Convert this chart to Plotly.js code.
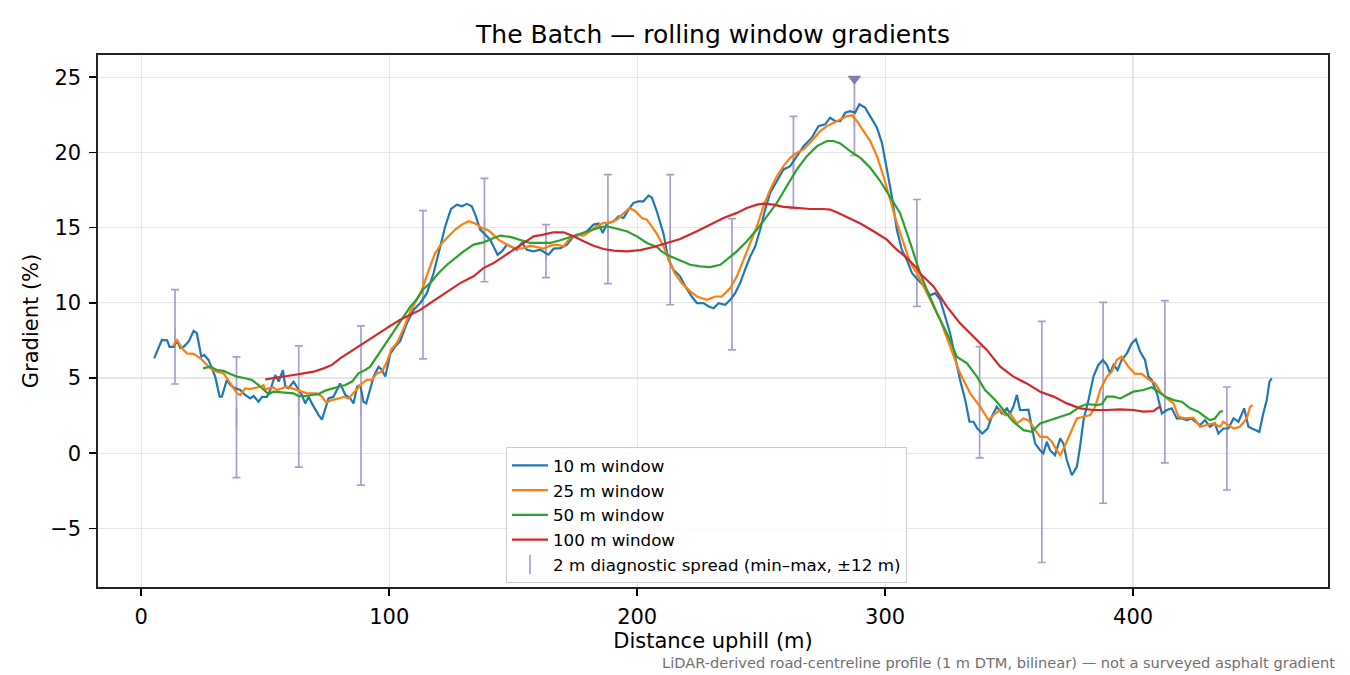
<!DOCTYPE html>
<html>
<head>
<meta charset="utf-8">
<script src="https://cdn.plot.ly/plotly-3.0.1.min.js"></script>
<style>
  html, body { margin: 0; padding: 0; background: #fff; }
  #chart { width: 1350px; height: 675px; }
</style>
</head>
<body>
<div id="chart"></div>
<script>
// rolling-window gradients (distance m, gradient %)
var x10 = [5.2, 8.3, 10.4, 11.4, 13, 14.4, 15.7, 17.1, 19.1, 21.1, 22.4, 23.4, 24.2, 25.4, 27.1, 28.5, 29.8, 31.6, 32.5, 34.5,
  35.9, 37.9, 39.9, 41.9, 43.9, 45.3, 47.3, 48.7, 50.7, 52, 54, 55.4, 57.1, 58.1, 59.4, 61.4, 62.8, 64.8, 66.1, 67.5,
  68.8, 70.2, 71.5, 72.9, 74.2, 75.5, 77.5, 78.9, 80.2, 82.3, 84.3, 85.6, 87, 88.3, 89.6, 90.7, 92.1, 93.7, 95.7, 97.1,
  98.4, 100.4, 102.4, 104.4, 107.1, 109.8, 112.5, 115.2, 117.9, 120.6, 122.6, 124.9, 127.3, 129.3, 131.3, 133.3, 134.7, 136.7, 138.7, 140.7,
  143.7, 145.4, 147.5, 149.5, 151.5, 153.5, 155.5, 158.2, 160.9, 164.2, 166.3, 169, 171.7, 174.3, 177, 179.7, 182.4, 184.4, 186.1, 187.8,
  190.5, 192.5, 194.5, 196.5, 198.5, 200.5, 202.5, 204.6, 205.9, 207.9, 210.6, 212.6, 214.6, 217.3, 219.4, 222, 224.1, 226.7, 228.8, 230.8,
  232.8, 235.5, 237.5, 239.5, 241.5, 243.5, 245.6, 247.6, 249.6, 251.6, 253.6, 256.3, 259, 261.7, 264.4, 267.1, 270.4, 273.1, 275.8, 277.8,
  279.8, 281.9, 283.9, 285.9, 287.9, 289.6, 291.9, 294, 296.7, 298.7, 300.7, 302.7, 304.7, 306.7, 308.7, 310.8, 312.8, 315.4, 318.1, 320.2,
  322.2, 324.2, 326.2, 328.2, 330.2, 332.3, 334, 335.6, 337.2, 339.2, 341.3, 343, 345, 347.1, 349.1, 350.4, 351.7, 353.1, 354.4, 355.8,
  357.8, 359.1, 360.5, 362.5, 363.8, 365.2, 366.5, 368.5, 370.6, 371.9, 373.3, 375.3, 377.3, 378.6, 380, 382, 384, 386, 387.8, 389.4,
  390.7, 392.1, 393.7, 395.4, 397.5, 399.5, 401.1, 402.8, 404.8, 406.2, 407.5, 409.6, 411.6, 413.6, 415.6, 417.6, 419.6, 421.6, 423.7, 425,
  427, 429, 431, 433, 434.4, 436.4, 438.4, 440.5, 442.5, 444.8, 446.5, 447.9, 449.2, 450.9, 452.5, 453.9, 455, 455.9];
var y10 = [6.3, 7.53, 7.5, 7.07, 7.07, 7.49, 7.0, 7.07, 7.42, 8.13, 7.98, 7.2, 6.42, 6.53, 6.2, 5.64, 5.09, 3.76, 3.76, 4.87,
  4.53, 4.31, 4.2, 3.87, 3.64, 3.8, 3.42, 3.75, 3.75, 4.2, 5.2, 4.76, 5.53, 4.42, 4.31, 4.76, 4.42, 3.87, 3.31, 3.75,
  3.31, 2.87, 2.53, 2.24, 2.98, 3.64, 3.75, 4.2, 4.64, 3.87, 3.64, 3.31, 4.42, 4.53, 3.42, 3.31, 4.2, 5.09, 5.75, 5.53,
  5.09, 6.6, 7.1, 7.45, 8.64, 9.53, 9.98, 10.64, 11.98, 13.76, 15.09, 16.24, 16.53, 16.42, 16.58, 16.42, 15.87, 14.87, 14.53, 14.2,
  13.2, 13.42, 13.87, 13.71, 13.53, 13.98, 13.53, 13.42, 13.53, 13.2, 13.6, 13.64, 13.87, 14.42, 14.53, 14.76, 15.2, 15.27, 14.64, 15.27,
  15.42, 15.75, 15.64, 16.2, 16.64, 16.75, 16.75, 17.13, 17.0, 16.09, 14.6, 12.87, 12.2, 11.76, 11.09, 10.42, 9.98, 9.98, 9.76, 9.64,
  9.98, 9.87, 10.2, 10.64, 11.31, 12.2, 13.09, 13.76, 14.87, 16.2, 17.31, 18.09, 18.87, 19.09, 19.75, 20.42, 20.98, 21.75, 21.87, 22.31,
  22.1, 22.09, 22.64, 22.75, 22.64, 23.2, 22.98, 22.42, 21.64, 20.64, 18.87, 17.09, 14.87, 13.53, 12.87, 11.98, 11.6, 11.15, 10.5, 10.64,
  10.2, 9.09, 7.98, 6.42, 4.87, 3.53, 2.09, 2.09, 1.64, 1.31, 1.64, 2.42, 3.09, 2.64, 2.98, 2.64, 3.09, 3.87, 2.87, 2.87,
  2.9, 1.76, 0.64, 0.2, -0.02, 0.76, 0.2, -0.13, 0.98, 0.64, -0.47, -1.47, -0.91, 0.42, 2.2, 3.53, 5.09, 5.87, 6.2, 5.87,
  5.31, 5.87, 5.53, 6.2, 6.64, 7.31, 7.58, 6.76, 6.2, 5.09, 4.87, 3.98, 2.64, 2.87, 2.98, 2.31, 2.31, 2.2, 2.31, 2.09,
  1.87, 2.2, 1.76, 1.98, 1.31, 1.64, 1.64, 2.31, 2.09, 2.98, 1.76, 1.64, 1.53, 1.42, 2.64, 3.53, 4.76, 4.98];

var x25 = [12.8, 14.4, 16.4, 18.4, 21.1, 23.8, 25.8, 27.8, 30.5, 33.2, 35.9, 38.6, 39.9, 41.9, 43.9, 48, 49.3, 50, 51.3, 53.3,
  54.7, 56.7, 58.7, 60.8, 64.8, 66.8, 70.8, 72.9, 74.6, 76.9, 79.6, 81.6, 83.6, 87, 89, 91, 93, 95, 97.1, 99.1,
  100.8, 103.1, 105.8, 108.5, 111.2, 113.2, 115.8, 118.5, 121.3, 123.9, 126.6, 129.3, 132, 134.7, 137.4, 140, 142.1, 144.1, 146.8, 148.8,
  151.5, 154.2, 156.9, 159.5, 162.2, 164.9, 167.6, 170.3, 173, 175.7, 178.4, 181, 183.7, 186.4, 189.1, 191.8, 194.5, 196.9, 199.2, 201.9,
  203.9, 205.9, 207.9, 210.2, 212.8, 215, 218, 221.4, 224.1, 228.1, 231.5, 234.1, 237.5, 240.2, 242.9, 245.6, 248.3, 250.9, 253.6, 256.3,
  259, 261.7, 264.4, 267.1, 270.4, 273.8, 276.5, 279.2, 281.9, 284.6, 286.6, 288.6, 291.3, 294, 296.7, 299.3, 302, 304.7, 307.4, 310.1,
  312.8, 315.4, 318.1, 322.2, 326.2, 330.2, 334.3, 338.3, 341.7, 344.4, 346.4, 348.4, 350.4, 353.1, 355.8, 357.8, 360.5, 362.5, 365.2, 367.2,
  369.2, 370.6, 372.6, 374.6, 377.3, 380, 382.7, 384.7, 386.7, 389.4, 391.4, 393.4, 395.4, 398.1, 400.8, 403.5, 406.2, 408.9, 410.9, 413.6,
  416.3, 418.3, 421, 424.3, 427, 429.7, 432.4, 435.1, 436.4, 438.4, 440.5, 443.1, 445.8, 447.2, 448.2];
var y25 = [7.13, 7.53, 6.98, 6.64, 6.6, 6.31, 5.98, 5.64, 5.42, 5.31, 4.64, 3.98, 3.87, 4.31, 4.27, 4.42, 4.53, 4.2, 4.31, 4.38,
  4.2, 4.31, 4.42, 4.31, 4.09, 3.98, 3.98, 3.76, 3.36, 3.53, 3.64, 3.75, 3.64, 4.31, 4.64, 4.87, 4.87, 5.31, 5.42, 6.09,
  6.9, 7.33, 8.3, 9.42, 10.2, 10.87, 12.1, 13.31, 13.98, 14.42, 14.87, 15.2, 15.42, 15.27, 14.98, 14.82, 14.53, 14.2, 13.93, 13.76,
  13.6, 13.64, 13.8, 13.71, 13.6, 13.8, 13.87, 13.76, 14.31, 14.53, 14.47, 14.76, 15.09, 15.31, 15.31, 15.53, 15.98, 16.31, 16.09, 15.64,
  15.53, 15.09, 14.6, 13.9, 12.9, 12.0, 11.3, 10.76, 10.42, 10.2, 10.42, 10.42, 10.98, 11.76, 12.87, 13.98, 15.09, 16.42, 17.53, 18.42,
  19.09, 19.64, 19.98, 20.2, 20.76, 21.42, 21.75, 21.98, 22.2, 22.42, 22.47, 22.09, 21.42, 20.76, 19.75, 18.42, 16.87, 15.31, 13.98, 12.64,
  11.98, 11.09, 10.2, 8.87, 7.09, 5.31, 3.98, 3.09, 2.2, 2.64, 2.87, 2.53, 2.64, 1.98, 2.31, 2.2, 1.53, 1.09, 1.09, 0.76,
  0.2, -0.13, 0.53, 1.31, 2.31, 2.42, 2.53, 3.09, 4.2, 5.09, 5.42, 6.2, 6.42, 5.75, 5.27, 5.27, 4.91, 4.64, 4.09, 3.64,
  3.31, 2.42, 2.31, 2.36, 1.76, 1.87, 1.98, 1.76, 2.09, 1.87, 1.64, 1.76, 2.31, 3.09, 3.2];

var x50 = [24.9, 27.8, 30.5, 33.2, 35.9, 38.6, 41.9, 44.6, 47.3, 49.3, 51.3, 53.3, 56, 58.7, 61.4, 63.4, 66.1, 68.8, 71.5, 74.2,
  76.9, 79.6, 82.3, 85, 87.6, 90.3, 92.3, 95, 97.7, 100.4, 103.1, 105.8, 108.5, 111.2, 113.8, 116.5, 119.9, 123.3, 126.6, 130,
  134, 138, 142.1, 144.8, 148.8, 152.8, 156.9, 160.9, 164.9, 169, 173, 177, 181, 185.1, 187.8, 191.8, 195.8, 199.9, 203.9, 207.9,
  210, 213.3, 217.3, 221.4, 225.4, 229.4, 233.5, 236.2, 240.2, 244.2, 248.3, 252.3, 256.3, 260.3, 264.4, 268.4, 272.5, 276.5, 279.2, 281.9,
  285.9, 290, 294, 298, 302.5, 306, 310.1, 314.1, 316.8, 320.9, 324.9, 328.9, 333, 337, 340.3, 344.4, 347.7, 351.7, 355.8, 359.1,
  362.5, 366.5, 370.6, 374.6, 378.6, 381.3, 385.4, 387.4, 389.4, 392.1, 394.8, 397.5, 400.1, 404.2, 407.5, 410.2, 412.9, 416.3, 419.6, 423,
  426.3, 429, 431, 433, 435.1, 436.2];
var y50 = [5.64, 5.75, 5.53, 5.47, 5.27, 5.09, 4.98, 4.87, 4.53, 4.2, 3.93, 4.09, 4.04, 4.04, 3.98, 3.8, 3.8, 3.87, 3.93, 4.16,
  4.31, 4.42, 4.53, 4.76, 5.31, 5.53, 5.75, 6.42, 7.09, 7.7, 8.42, 9.09, 9.75, 10.25, 10.92, 11.31, 11.98, 12.53, 12.98, 13.42,
  13.87, 14.02, 14.31, 14.47, 14.38, 14.2, 13.98, 13.98, 13.98, 14.16, 14.38, 14.6, 14.82, 15.02, 15.09, 14.91, 14.76, 14.42, 13.98, 13.71,
  13.4, 13.09, 12.8, 12.53, 12.42, 12.38, 12.53, 12.87, 13.42, 14.09, 14.87, 15.75, 16.64, 17.75, 18.87, 19.75, 20.42, 20.76, 20.76, 20.6,
  20.09, 19.64, 18.98, 18.1, 16.9, 15.98, 13.98, 11.98, 10.87, 9.31, 7.98, 6.42, 5.98, 5.09, 4.2, 3.53, 2.87, 2.09, 1.53, 1.42,
  1.98, 2.2, 2.42, 2.64, 3.09, 3.27, 3.2, 3.27, 3.76, 3.76, 3.64, 3.87, 4.09, 4.2, 4.38, 4.09, 3.76, 3.53, 3.42, 2.98,
  2.76, 2.42, 2.2, 2.31, 2.76, 2.8];

var x100 = [50, 53.3, 57.4, 61.4, 65.4, 69.5, 73.5, 76.9, 80.2, 84.3, 88.3, 92.3, 96.4, 100.4, 104.4, 108.5, 112.5, 116.5, 123.3, 128.6,
  134, 138, 142.1, 146.1, 150.1, 154.2, 158.2, 162.2, 166.3, 170.3, 174.3, 178.4, 182.4, 186.4, 190.5, 195.8, 201.2, 206.6, 212, 217.3,
  224.1, 229.4, 234.8, 240.2, 244.2, 248.3, 250.9, 255, 259, 264.4, 269.8, 275.1, 277.8, 280.5, 284.6, 290, 295.3, 300.7, 304.7, 308.7,
  312.8, 314.1, 319.5, 324.9, 330.2, 335.6, 341, 346.4, 351.7, 357.1, 362.5, 367.9, 373.3, 378.6, 384, 389.4, 394.8, 400.1, 404.2, 408.2,
  410.2, 411.2];
var y100 = [4.91, 4.98, 5.09, 5.2, 5.31, 5.42, 5.64, 5.87, 6.31, 6.76, 7.2, 7.58, 8.04, 8.47, 8.87, 9.2, 9.53, 9.98, 10.76, 11.31,
  11.76, 12.31, 12.64, 13.09, 13.53, 13.98, 14.42, 14.53, 14.69, 14.69, 14.42, 14.09, 13.8, 13.58, 13.47, 13.42, 13.5, 13.71, 13.98, 14.24,
  14.76, 15.2, 15.64, 15.98, 16.31, 16.53, 16.6, 16.53, 16.38, 16.31, 16.24, 16.24, 16.2, 16.02, 15.71, 15.27, 14.76, 14.2, 13.53, 13.0,
  12.31, 11.95, 11.09, 9.75, 8.64, 7.76, 6.87, 5.75, 5.09, 4.64, 4.09, 3.76, 3.31, 2.98, 2.87, 2.87, 2.91, 2.87, 2.76, 2.8,
  3.04, 3.02];

// 2 m diagnostic spread: min / max within +-12 m of each station
var spreadX = [13.6, 38.4, 63.5, 88.6, 113.6, 138.4, 163.2, 188.2, 213.3, 238.2, 263, 287.6, 312.8, 338.1, 363.2, 387.9, 412.8, 437.8];
var spreadLo = [4.6, -1.62, -0.93, -2.13, 6.27, 11.4, 11.67, 11.27, 9.87, 6.87, 16.27, 19.8, 9.76, -0.31, -7.27, -3.33, -0.65, -2.45];
var spreadHi = [10.87, 6.4, 7.13, 8.47, 16.13, 18.27, 15.2, 18.53, 18.53, 15.6, 22.4, 24.9, 16.87, 7.09, 8.76, 10.03, 10.15, 4.4];

// steepest spread marker
var peakX = [287.6];
var peakY = [24.9];

var spreadMid = spreadX.map(function(d, i) { return (spreadLo[i] + spreadHi[i]) / 2; });
var spreadUp = spreadMid.map(function(m, i) { return spreadHi[i] - m; });
var spreadDown = spreadMid.map(function(m, i) { return m - spreadLo[i]; });

var lavender = '#a99fc6';

var spread = {
  x: spreadX,
  y: spreadMid,
  name: '2 m diagnostic spread (min\u2013max, \u00b112 m)',
  mode: 'markers',
  type: 'scatter',
  marker: { symbol: 'line-ns-open', size: 14, color: lavender, line: { color: lavender, width: 1.7 } },
  error_y: { type: 'data', symmetric: false, array: spreadUp, arrayminus: spreadDown,
    color: lavender, thickness: 1.7, width: 4 },
  hoverinfo: 'skip',
  legendrank: 1100
};

function windowTrace(x, y, name, color, rank) {
  return {
    x: x,
    y: y,
    name: name,
    mode: 'lines',
    type: 'scatter',
    line: { color: color, width: 2.2 },
    legendrank: rank
  };
}

var w10 = windowTrace(x10, y10, '10 m window', '#1f77b4', 1000);
var w25 = windowTrace(x25, y25, '25 m window', '#ff7f0e', 1001);
var w50 = windowTrace(x50, y50, '50 m window', '#2ca02c', 1002);
var w100 = windowTrace(x100, y100, '100 m window', '#d62728', 1003);

var peak = {
  x: peakX,
  y: peakY,
  mode: 'markers',
  type: 'scatter',
  showlegend: false,
  marker: { symbol: 'triangle-down', size: 12, color: '#8677b1' },
  hoverinfo: 'skip'
};

// spread drawn first so the window lines sit on top
var data = [spread, w10, w25, w50, w100, peak];

var font = 'DejaVu Sans, Liberation Sans, sans-serif';

var layout = {
  width: 1350,
  height: 675,
  margin: { l: 98, r: 22, t: 55, b: 88 },
  paper_bgcolor: '#ffffff',
  plot_bgcolor: '#ffffff',
  font: { family: font, size: 21, color: '#000000' },
  title: {
    text: 'The Batch \u2014 rolling window gradients',
    font: { family: font, size: 25, color: '#000000' },
    x: 0.5, xref: 'paper', xanchor: 'center',
    y: 1 - 34 / 675, yref: 'container', yanchor: 'middle'
  },
  xaxis: {
    range: [-17.46, 478.6],
    tick0: 0, dtick: 100,
    ticks: 'outside', ticklen: 7, tickwidth: 1.6, tickcolor: '#000',
    ticklabelstandoff: 3,
    showline: true, linecolor: '#222', linewidth: 1.6, mirror: true,
    showgrid: true, gridcolor: '#e6e6e6', gridwidth: 1.3,
    zeroline: false,
    tickfont: { family: font, size: 21, color: '#000' },
    title: { text: 'Distance uphill (m)', font: { family: font, size: 21, color: '#000' }, standoff: 3 }
  },
  yaxis: {
    range: [-8.9, 26.48],
    tick0: 0, dtick: 5,
    ticks: 'outside', ticklen: 7, tickwidth: 1.6, tickcolor: '#000',
    ticklabelstandoff: 4,
    showline: true, linecolor: '#222', linewidth: 1.6, mirror: true,
    showgrid: true, gridcolor: '#e6e6e6', gridwidth: 1.3,
    zeroline: false,
    tickfont: { family: font, size: 21, color: '#000' },
    title: { text: 'Gradient (%)', font: { family: font, size: 21, color: '#000' }, standoff: 6 }
  },
  legend: {
    x: 0.3317, y: 0.263, xanchor: 'left', yanchor: 'top',
    bgcolor: 'rgba(255,255,255,0.8)', bordercolor: '#cccccc', borderwidth: 1,
    font: { family: font, size: 16.7, color: '#000' },
    traceorder: 'normal',
    itemwidth: 36
  },
  annotations: [{
    text: 'LiDAR-derived road-centreline profile (1 m DTM, bilinear) \u2014 not a surveyed asphalt gradient',
    xref: 'paper', yref: 'paper',
    x: (1337 - 98) / 1230, y: (587 - 662) / 532,
    xanchor: 'right', yanchor: 'middle',
    showarrow: false,
    font: { family: font, size: 14.6, color: '#707070' }
  }],
  showlegend: true
};

Plotly.newPlot('chart', data, layout, { displayModeBar: false, staticPlot: true });
</script>
</body>
</html>
